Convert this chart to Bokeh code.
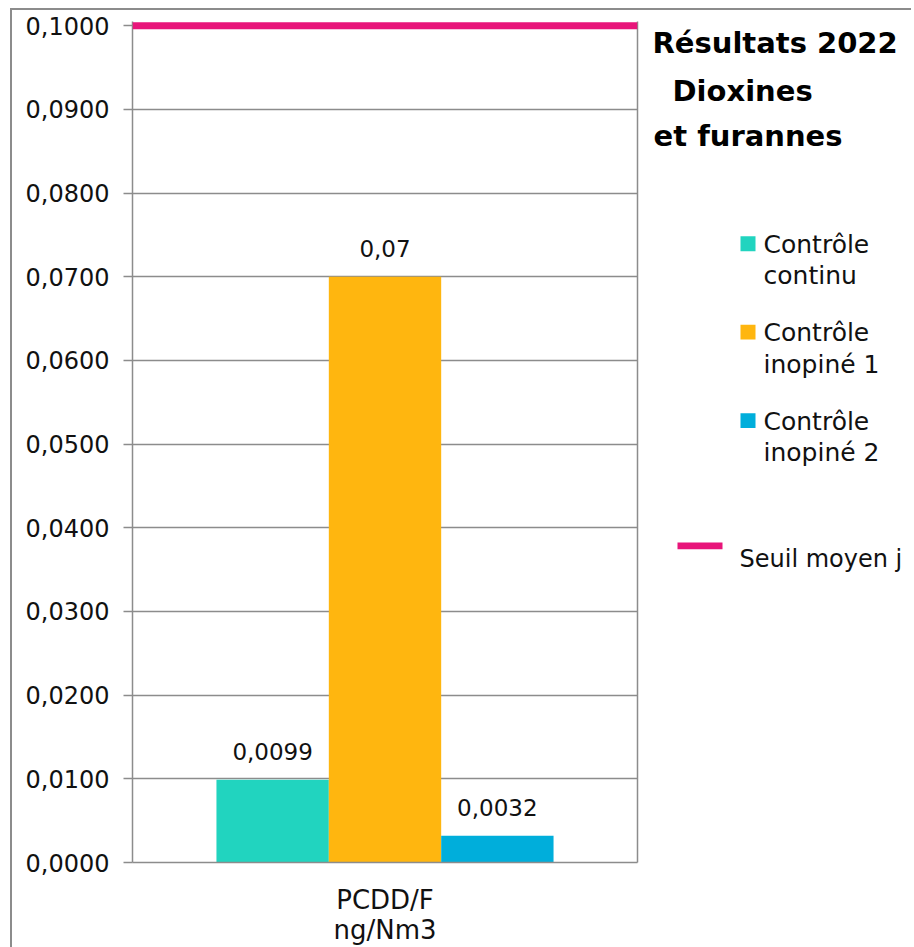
from bokeh.plotting import figure
from bokeh.layouts import row
from bokeh.models import (FactorRange, Range1d, LinearAxis, FixedTicker, Span,
                          ColumnDataSource)
from bokeh.transform import dodge
from bokeh.core.properties import value
from bokeh.embed import file_html
from bokeh.resources import INLINE

# ---------------- data ----------------
categories = ["PCDD/F\nng/Nm3"]
series = ["Contrôle continu", "Contrôle inopiné 1", "Contrôle inopiné 2"]
legend_lines = [["Contrôle", "continu"], ["Contrôle", "inopiné 1"], ["Contrôle", "inopiné 2"]]
values = [0.0099, 0.07, 0.0032]
value_labels = ["0,0099", "0,07", "0,0032"]
colors = ["#21D4BF", "#FFB60F", "#00AEDB"]
threshold = 0.1
threshold_label = "Seuil moyen j"
threshold_color = "#E8157A"
y_ticks = [0.0, 0.01, 0.02, 0.03, 0.04, 0.05, 0.06, 0.07, 0.08, 0.09, 0.1]
y_tick_labels = ["0,0000", "0,0100", "0,0200", "0,0300", "0,0400", "0,0500",
                 "0,0600", "0,0700", "0,0800", "0,0900", "0,1000"]
title_lines = ["Résultats 2022", "Dioxines", "et furannes"]

FONT = "DejaVu Sans"
GRAY = "#8c8c8c"
TXT = "#111111"

FIG_H = 932
TOP = 11
FRAME_H = 841

# ---------------- main chart ----------------
p = figure(x_range=FactorRange(*categories), y_range=Range1d(0, 0.1005),
           frame_width=505, frame_height=FRAME_H, output_backend="svg", toolbar_location=None,
           min_border_left=120, min_border_right=8, min_border_top=TOP,
           min_border_bottom=FIG_H - TOP - FRAME_H)
p.outline_line_color = None
p.background_fill_color = "white"
p.border_fill_color = "white"

ticker = FixedTicker(ticks=y_ticks)
p.yaxis.ticker = ticker
p.yaxis.major_label_overrides = {t: l for t, l in zip(y_ticks, y_tick_labels)}
p.yaxis.major_label_text_font = FONT
p.yaxis.major_label_text_font_size = "24px"
p.yaxis.major_label_text_color = TXT
p.yaxis.axis_line_color = GRAY
p.yaxis.axis_line_width = 1.5
p.yaxis.major_tick_line_color = GRAY
p.yaxis.major_tick_line_width = 1.5
p.yaxis.major_tick_out = 9
p.yaxis.major_tick_in = 0
p.yaxis.minor_tick_line_color = None
p.yaxis.major_label_standoff = 14

p.ygrid.ticker = ticker
p.ygrid.grid_line_color = GRAY
p.ygrid.grid_line_width = 1.5
p.xgrid.grid_line_color = None

p.xaxis.axis_line_color = GRAY
p.xaxis.axis_line_width = 1.5
p.xaxis.major_tick_line_color = None
p.xaxis.major_tick_out = 0
p.xaxis.minor_tick_line_color = None
p.xaxis.major_label_text_font = FONT
p.xaxis.major_label_text_font_size = "26px"
p.xaxis.major_label_text_color = TXT
p.xaxis.major_label_text_line_height = 1.0
p.xaxis.major_label_standoff = 22

right_axis = LinearAxis(ticker=FixedTicker(ticks=[]), axis_line_color=GRAY,
                        axis_line_width=1.5, major_tick_line_color=None,
                        minor_tick_line_color=None, major_tick_out=0,
                        major_label_standoff=0)
p.add_layout(right_axis, "right")

offsets = [-0.2225, 0.0, 0.2225]
for i in range(len(series)):
    src = ColumnDataSource(dict(cat=[categories[0]], val=[values[i]], lab=[value_labels[i]]))
    p.vbar(x=dodge("cat", offsets[i], range=p.x_range), top="val", width=0.2225,
           source=src, fill_color=colors[i], line_color=None)
    p.text(x=dodge("cat", offsets[i], range=p.x_range), y="val", text="lab", source=src,
           text_align="center", text_baseline="alphabetic", y_offset=-28,
           text_font=value(FONT), text_font_size="23px", text_color=TXT)

p.add_layout(Span(location=threshold, dimension="width", line_color=threshold_color,
                  line_width=7))

# ---------------- title + legend panel ----------------
# This panel's frame is aligned with the main frame (page y 21 .. 862),
# so its y range is expressed in page pixels (top = 21).
SIDE_W = 266
PAGE_FRAME_TOP = 10 + TOP
PAGE_FRAME_BOTTOM = PAGE_FRAME_TOP + FRAME_H
s = figure(width=SIDE_W, height=FIG_H, x_range=Range1d(0, SIDE_W),
           y_range=Range1d(PAGE_FRAME_BOTTOM, PAGE_FRAME_TOP),
           x_axis_type=None, y_axis_type=None, output_backend="svg", toolbar_location=None,
           min_border=0)
s.outline_line_color = None
s.xgrid.grid_line_color = None
s.ygrid.grid_line_color = None
s.background_fill_color = "white"
s.border_fill_color = "white"

# title
s.text(x=[7, 27, 8], y=[43, 91, 136], text=title_lines, text_font=value(FONT),
       text_font_style="bold", text_font_size="29px", text_color="#000000",
       text_baseline="alphabetic")

# legend swatches and labels
sq_top = [237, 326, 415]
s.quad(left=[95] * 3, right=[110] * 3, top=sq_top, bottom=[t + 15 for t in sq_top],
       fill_color=colors, line_color=None)
lx, ly, lt = [], [], []
for i in range(len(series)):
    for j, line in enumerate(legend_lines[i]):
        lx.append(118)
        ly.append(sq_top[i] + 8 + 32 * j)
        lt.append(line)
s.text(x=lx, y=ly, text=lt, text_font=value(FONT), text_font_size="25px",
       text_color=TXT, text_baseline="alphabetic")

s.quad(left=[32], right=[77], top=[545], bottom=[552], fill_color=threshold_color,
       line_color=None)
s.text(x=[94], y=[562], text=[threshold_label], text_font=value(FONT),
       text_font_size="24px", text_color=TXT, text_baseline="alphabetic")

layout = row(p, s)
layout.styles = {"border-left": "2px solid #8c8c8c", "border-top": "2px solid #8c8c8c",
                 "margin-left": "10px", "margin-top": "8px"}

open("out.html", "w").write(file_html(layout, INLINE))
